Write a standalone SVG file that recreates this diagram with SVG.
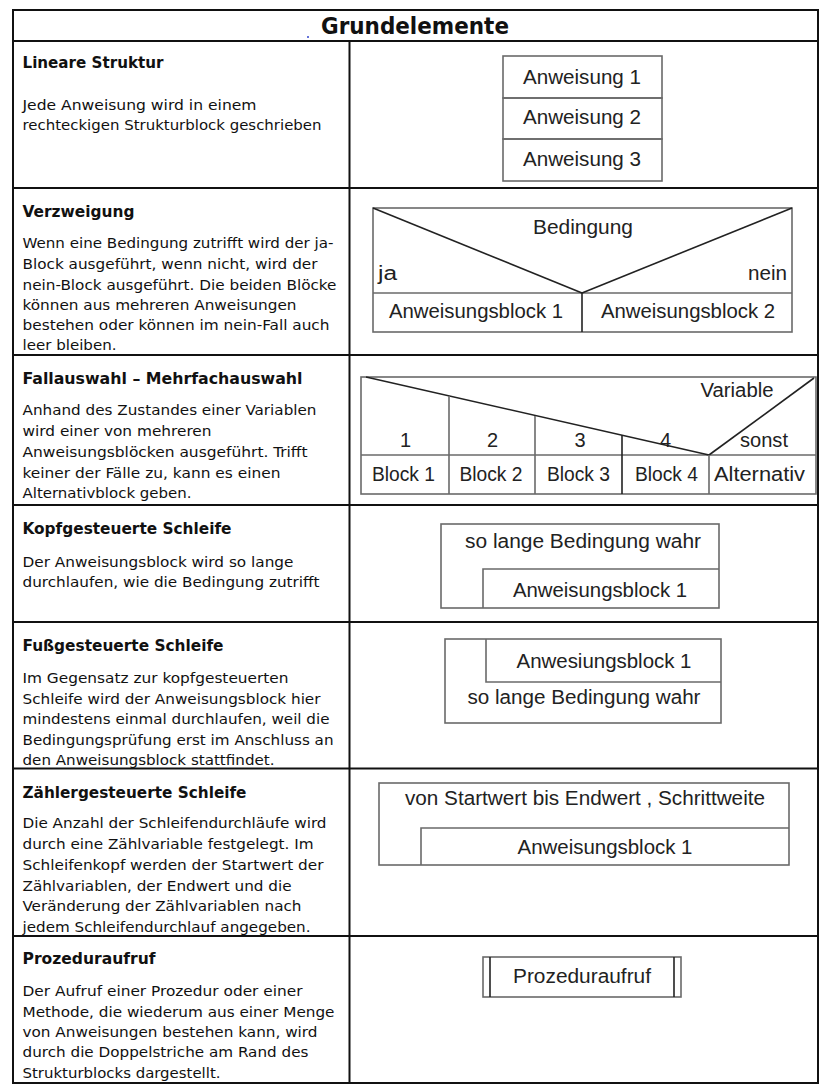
<svg xmlns="http://www.w3.org/2000/svg" width="821" height="1092" viewBox="0 0 821 1092">
<style>
.tbl{stroke:#111;stroke-width:2;fill:none}
.box{stroke:#6a6a6a;stroke-width:1.6;fill:none}
.dark{stroke:#222;stroke-width:1.6;fill:none}
.h{font-family:"DejaVu Sans Condensed","DejaVu Sans","Liberation Sans",sans-serif;font-weight:bold;font-size:23px;fill:#111}
.t{font-family:"DejaVu Sans Condensed","DejaVu Sans","Liberation Sans",sans-serif;font-weight:bold;font-size:15px;fill:#111}
.d{font-family:"DejaVu Sans Condensed","DejaVu Sans","Liberation Sans",sans-serif;font-size:14.5px;fill:#111}
.l{font-family:"Liberation Sans",Arial,sans-serif;font-size:20px;fill:#222}
.c{text-anchor:middle}
</style>
<rect width="821" height="1092" fill="#fff"/>
<g id="table">
<rect class="tbl" x="13" y="10" width="805" height="1073"/>
<line class="tbl" x1="13" y1="41" x2="818" y2="41"/>
<line class="tbl" x1="349.5" y1="41" x2="349.5" y2="1083"/>
<line class="tbl" x1="13" y1="188" x2="818" y2="188"/>
<line class="tbl" x1="13" y1="355" x2="818" y2="355"/>
<line class="tbl" x1="13" y1="505" x2="818" y2="505"/>
<line class="tbl" x1="13" y1="622" x2="818" y2="622"/>
<line class="tbl" x1="13" y1="768.5" x2="818" y2="768.5"/>
<line class="tbl" x1="13" y1="936" x2="818" y2="936"/>
<text class="h" x="321" y="34" textLength="188" lengthAdjust="spacingAndGlyphs">Grundelemente</text>
<circle cx="308" cy="37" r="1" fill="#3344cc"/>
</g>
<g id="desc-linear">
<text class="t" x="22.5" y="68" textLength="141" lengthAdjust="spacingAndGlyphs">Lineare Struktur</text>
<text class="d" x="22.5" y="110" textLength="234" lengthAdjust="spacingAndGlyphs">Jede Anweisung wird in einem</text>
<text class="d" x="22.5" y="130" textLength="299" lengthAdjust="spacingAndGlyphs">rechteckigen Strukturblock geschrieben</text>
</g>
<g id="desc-verzweigung">
<text class="t" x="22.5" y="217" textLength="112" lengthAdjust="spacingAndGlyphs">Verzweigung</text>
<text class="d" x="22.5" y="248" textLength="311" lengthAdjust="spacingAndGlyphs">Wenn eine Bedingung zutrifft wird der ja-</text>
<text class="d" x="22.5" y="269" textLength="295" lengthAdjust="spacingAndGlyphs">Block ausgeführt, wenn nicht, wird der</text>
<text class="d" x="22.5" y="290" textLength="314" lengthAdjust="spacingAndGlyphs">nein-Block ausgeführt. Die beiden Blöcke</text>
<text class="d" x="22.5" y="310" textLength="274" lengthAdjust="spacingAndGlyphs">können aus mehreren Anweisungen</text>
<text class="d" x="22.5" y="330" textLength="307" lengthAdjust="spacingAndGlyphs">bestehen oder können im nein-Fall auch</text>
<text class="d" x="22.5" y="350" textLength="94" lengthAdjust="spacingAndGlyphs">leer bleiben.</text>
</g>
<g id="desc-fallauswahl">
<text class="t" x="22.5" y="384" textLength="280" lengthAdjust="spacingAndGlyphs">Fallauswahl – Mehrfachauswahl</text>
<text class="d" x="22.5" y="415" textLength="294" lengthAdjust="spacingAndGlyphs">Anhand des Zustandes einer Variablen</text>
<text class="d" x="22.5" y="436" textLength="189" lengthAdjust="spacingAndGlyphs">wird einer von mehreren</text>
<text class="d" x="22.5" y="457" textLength="285" lengthAdjust="spacingAndGlyphs">Anweisungsblöcken ausgeführt. Trifft</text>
<text class="d" x="22.5" y="478" textLength="258" lengthAdjust="spacingAndGlyphs">keiner der Fälle zu, kann es einen</text>
<text class="d" x="22.5" y="498" textLength="169" lengthAdjust="spacingAndGlyphs">Alternativblock geben.</text>
</g>
<g id="desc-kopf">
<text class="t" x="22.5" y="534" textLength="209" lengthAdjust="spacingAndGlyphs">Kopfgesteuerte Schleife</text>
<text class="d" x="22.5" y="567" textLength="271" lengthAdjust="spacingAndGlyphs">Der Anweisungsblock wird so lange</text>
<text class="d" x="22.5" y="587" textLength="297" lengthAdjust="spacingAndGlyphs">durchlaufen, wie die Bedingung zutrifft</text>
</g>
<g id="desc-fuss">
<text class="t" x="22.5" y="651" textLength="201" lengthAdjust="spacingAndGlyphs">Fußgesteuerte Schleife</text>
<text class="d" x="22.5" y="683" textLength="266" lengthAdjust="spacingAndGlyphs">Im Gegensatz zur kopfgesteuerten</text>
<text class="d" x="22.5" y="704" textLength="298" lengthAdjust="spacingAndGlyphs">Schleife wird der Anweisungsblock hier</text>
<text class="d" x="22.5" y="724" textLength="307" lengthAdjust="spacingAndGlyphs">mindestens einmal durchlaufen, weil die</text>
<text class="d" x="22.5" y="745" textLength="311" lengthAdjust="spacingAndGlyphs">Bedingungsprüfung erst im Anschluss an</text>
<text class="d" x="22.5" y="765" textLength="252" lengthAdjust="spacingAndGlyphs">den Anweisungsblock stattfindet.</text>
</g>
<g id="desc-zaehler">
<text class="t" x="22.5" y="798" textLength="224" lengthAdjust="spacingAndGlyphs">Zählergesteuerte Schleife</text>
<text class="d" x="22.5" y="828" textLength="304" lengthAdjust="spacingAndGlyphs">Die Anzahl der Schleifendurchläufe wird</text>
<text class="d" x="22.5" y="849" textLength="291" lengthAdjust="spacingAndGlyphs">durch eine Zählvariable festgelegt. Im</text>
<text class="d" x="22.5" y="870" textLength="301" lengthAdjust="spacingAndGlyphs">Schleifenkopf werden der Startwert der</text>
<text class="d" x="22.5" y="891" textLength="269" lengthAdjust="spacingAndGlyphs">Zählvariablen, der Endwert und die</text>
<text class="d" x="22.5" y="911" textLength="279" lengthAdjust="spacingAndGlyphs">Veränderung der Zählvariablen nach</text>
<text class="d" x="22.5" y="932" textLength="288" lengthAdjust="spacingAndGlyphs">jedem Schleifendurchlauf angegeben.</text>
</g>
<g id="desc-prozedur">
<text class="t" x="22.5" y="964" textLength="133" lengthAdjust="spacingAndGlyphs">Prozeduraufruf</text>
<text class="d" x="22.5" y="996" textLength="280" lengthAdjust="spacingAndGlyphs">Der Aufruf einer Prozedur oder einer</text>
<text class="d" x="22.5" y="1017" textLength="312" lengthAdjust="spacingAndGlyphs">Methode, die wiederum aus einer Menge</text>
<text class="d" x="22.5" y="1037" textLength="295" lengthAdjust="spacingAndGlyphs">von Anweisungen bestehen kann, wird</text>
<text class="d" x="22.5" y="1057" textLength="286" lengthAdjust="spacingAndGlyphs">durch die Doppelstriche am Rand des</text>
<text class="d" x="22.5" y="1078" textLength="198" lengthAdjust="spacingAndGlyphs">Strukturblocks dargestellt.</text>
</g>
<g id="diag-linear">
<rect class="box" x="503" y="56" width="159" height="42"/>
<rect class="box" x="503" y="98" width="159" height="41"/>
<rect class="box" x="503" y="139" width="159" height="42"/>
<text class="l c" x="582" y="84" textLength="118" lengthAdjust="spacingAndGlyphs">Anweisung 1</text>
<text class="l c" x="582" y="124" textLength="118" lengthAdjust="spacingAndGlyphs">Anweisung 2</text>
<text class="l c" x="582" y="166" textLength="118" lengthAdjust="spacingAndGlyphs">Anweisung 3</text>
</g>
<g id="diag-verzweigung">
<rect class="box" x="373" y="208" width="419" height="124"/>
<line class="box" x1="373" y1="293" x2="792" y2="293"/>
<line class="dark" x1="582" y1="293" x2="582" y2="332"/>
<line class="dark" x1="373" y1="208" x2="582" y2="293"/>
<line class="dark" x1="792" y1="208" x2="582" y2="293"/>
<text class="l c" x="583" y="234" textLength="100" lengthAdjust="spacingAndGlyphs">Bedingung</text>
<text class="l" x="378" y="280" textLength="19" lengthAdjust="spacingAndGlyphs">ja</text>
<text class="l" x="748" y="280" textLength="39" lengthAdjust="spacingAndGlyphs">nein</text>
<text class="l c" x="476" y="318" textLength="174" lengthAdjust="spacingAndGlyphs">Anweisungsblock 1</text>
<text class="l c" x="688" y="318" textLength="174" lengthAdjust="spacingAndGlyphs">Anweisungsblock 2</text>
</g>
<g id="diag-fallauswahl">
<rect class="box" x="361" y="377" width="455" height="117"/>
<line class="box" x1="361" y1="455" x2="816" y2="455"/>
<line class="dark" x1="366" y1="377" x2="709" y2="455"/>
<line class="dark" x1="709" y1="455" x2="814" y2="378"/>
<line class="box" x1="449" y1="396" x2="449" y2="494"/>
<line class="box" x1="535" y1="416" x2="535" y2="494"/>
<line class="dark" x1="622" y1="435" x2="622" y2="494"/>
<line class="box" x1="709" y1="455" x2="709" y2="494"/>
<text class="l c" x="737" y="397" textLength="73" lengthAdjust="spacingAndGlyphs">Variable</text>
<text class="l c" x="405.5" y="447">1</text>
<text class="l c" x="492.5" y="447">2</text>
<text class="l c" x="580" y="447">3</text>
<text class="l c" x="665.5" y="447">4</text>
<text class="l c" x="764" y="447" textLength="48" lengthAdjust="spacingAndGlyphs">sonst</text>
<text class="l c" x="403.5" y="481" textLength="63" lengthAdjust="spacingAndGlyphs">Block 1</text>
<text class="l c" x="491" y="481" textLength="63" lengthAdjust="spacingAndGlyphs">Block 2</text>
<text class="l c" x="578.5" y="481" textLength="63" lengthAdjust="spacingAndGlyphs">Block 3</text>
<text class="l c" x="666.5" y="481" textLength="63" lengthAdjust="spacingAndGlyphs">Block 4</text>
<text class="l c" x="759.5" y="481" textLength="91" lengthAdjust="spacingAndGlyphs">Alternativ</text>
</g>
<g id="diag-kopf">
<rect class="box" x="441" y="524" width="278" height="84"/>
<polyline class="box" points="719,569 483,569 483,608"/>
<text class="l c" x="583" y="548" textLength="236" lengthAdjust="spacingAndGlyphs">so lange Bedingung wahr</text>
<text class="l c" x="600" y="597" textLength="174" lengthAdjust="spacingAndGlyphs">Anweisungsblock 1</text>
</g>
<g id="diag-fuss">
<rect class="box" x="445" y="639" width="276" height="84"/>
<polyline class="box" points="486,639 486,682 721,682"/>
<text class="l c" x="604" y="668" textLength="175" lengthAdjust="spacingAndGlyphs">Anwesiungsblock 1</text>
<text class="l c" x="584" y="704" textLength="233" lengthAdjust="spacingAndGlyphs">so lange Bedingung wahr</text>
</g>
<g id="diag-zaehler">
<rect class="box" x="379" y="783" width="410" height="82"/>
<polyline class="box" points="789,828 421,828 421,865"/>
<text class="l c" x="585" y="805" textLength="360" lengthAdjust="spacingAndGlyphs">von Startwert bis Endwert , Schrittweite</text>
<text class="l c" x="605" y="854" textLength="175" lengthAdjust="spacingAndGlyphs">Anweisungsblock 1</text>
</g>
<g id="diag-prozedur">
<rect class="box" x="483" y="957" width="198" height="40"/>
<line class="dark" x1="490" y1="957" x2="490" y2="997"/>
<line class="dark" x1="674" y1="957" x2="674" y2="997"/>
<text class="l c" x="582" y="983" textLength="138" lengthAdjust="spacingAndGlyphs">Prozeduraufruf</text>
</g>
</svg>
